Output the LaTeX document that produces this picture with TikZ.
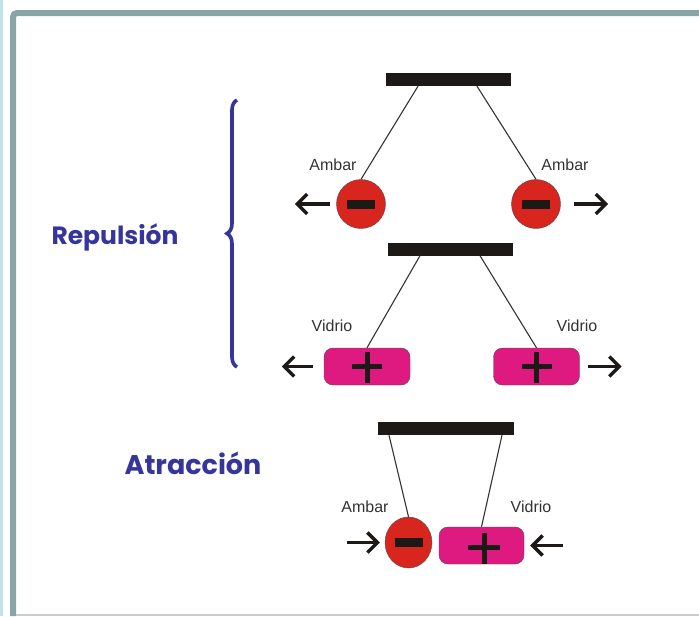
\documentclass[tikz,border=0pt]{standalone}
\usepackage{fontspec}
\setmainfont{Liberation Sans}
\newfontfamily\headfont{Poppins}
\usetikzlibrary{
    arrows.meta,
    calc,
    decorations.pathreplacing,
    shapes.geometric,
}
\definecolor{framegray}{HTML}{88A6A8}
\definecolor{sidecyan}{HTML}{BEE3E8}
\definecolor{bardark}{HTML}{1D1917}
\definecolor{ambar}{HTML}{D8261E}
\definecolor{vidrio}{HTML}{DE1A80}
\definecolor{titleblue}{HTML}{35359C}

\begin{document}
\begin{tikzpicture}[
        x=1pt, y=-1pt,
        bar/.style={rectangle, fill=bardark, inner sep=0pt, minimum width=125pt, minimum height=13pt},
        amberball/.style={circle, draw=black!70, fill=ambar, inner sep=0pt, minimum size=49pt},
        glassbox/.style={rectangle, rounded corners=9pt, draw=black!70, fill=vidrio, inner sep=0pt, minimum width=86pt, minimum height=37pt},
        sign/.style={fill=bardark},
        thread/.style={draw=black!80, line width=1.1pt},
        lbl/.style={font=\fontsize{16}{18}\selectfont, text=black!80},
        push/.style={-{Straight Barb[length=10pt, width=20pt]}, line width=3.4pt, draw=bardark},
        heading/.style={font=\headfont\bfseries\fontsize{25}{30}\selectfont, text=titleblue},
        ]
        \useasboundingbox (0,0) rectangle (699,616);
        % frame
        \fill[sidecyan] (0,0) rectangle (2.5,616);
        \draw[framegray, line width=6pt, rounded corners=4pt] (13,616) -- (13,13) -- (699,13);
        \draw[black!20, line width=2pt] (16,615) -- (699,615);

        % repulsion, amber
        \node[bar] (barA) at (448.5,79.5) {};
        \node[amberball] (ambA) at (361,204) {};
        \node[amberball] (ambB) at (536,204) {};
        \draw[thread] ($(barA.south)+(-30.5,0)$) -- (ambA.north);
        \draw[thread] ($(barA.south)+(28.5,0)$) -- (ambB.north);
        \node[lbl] (lblA) at (333,165) {Ambar};
        \node[lbl] (lblB) at (565,165) {Ambar};
        \draw[push] ($(ambA.west)+(-6.5,0)$) -- +(-35,0);
        \draw[push] ($(ambB.east)+(13.5,0)$) -- +(34,0);

        % repulsion, glass
        \node[bar] (barB) at (450.5,249) {};
        \node[glassbox] (glsA) at (367,366.5) {};
        \node[glassbox] (glsB) at (536.5,366.5) {};
        \draw[thread] ($(barB.south)+(-30.5,0)$) -- (glsA.north);
        \draw[thread] ($(barB.south)+(29.5,0)$) -- (glsB.north);
        \node[lbl] (lblC) at (332,326) {Vidrio};
        \node[lbl] (lblD) at (577,326) {Vidrio};
        \draw[push] ($(glsA.west)+(-11,0)$) -- +(-31,0);
        \draw[push] ($(glsB.east)+(8,0)$) -- +(34,0);

        % attraction
        \node[bar, minimum width=136pt] (barC) at (446,428.5) {};
        \node[amberball, ellipse, minimum width=47pt, minimum height=51pt] (ambC) at (408.5,542.5) {};
        \node[glassbox, minimum width=85pt] (glsC) at (481.5,545.5) {};
        \draw[thread] ($(barC.south)+(-57,0)$) -- (ambC.north);
        \draw[thread] ($(barC.south)+(56,0)$) -- (glsC.north);
        \node[lbl] (lblE) at (365,507) {Ambar};
        \node[lbl] (lblF) at (531,507) {Vidrio};
        \draw[push] ($(ambC.west)+(-38,0)$) -- +(33,0);
        \draw[push] ($(glsC.east)+(39,0)$) -- +(-33,0);

        % charges
        \foreach \n in {ambA,ambB,ambC}
            \fill[sign] ($(\n)+(-14,-4.5)$) rectangle +(28,9);
        \foreach \n in {glsA,glsB}{
            \fill[sign] ($(\n)+(-15,-2.5)$) rectangle +(30,5);
            \fill[sign] ($(\n)+(-2.5,-15)$) rectangle +(5,31);
        }
        \fill[sign] ($(glsC)+(-13.5,-1)$) rectangle +(32,5);
        \fill[sign] ($(glsC)+(0,-12.5)$) rectangle +(5,31);

        % headings
        \node[heading] (rep) at (115,237) {Repulsión};
        \node[heading, font=\headfont\bfseries\fontsize{27}{32}\selectfont] (atr) at (193,463) {Atracción};
        \draw[titleblue, line width=3.6pt, decorate, decoration={brace, amplitude=10pt}]
            (237,367) -- (237,100);
\end{tikzpicture}
\end{document}
